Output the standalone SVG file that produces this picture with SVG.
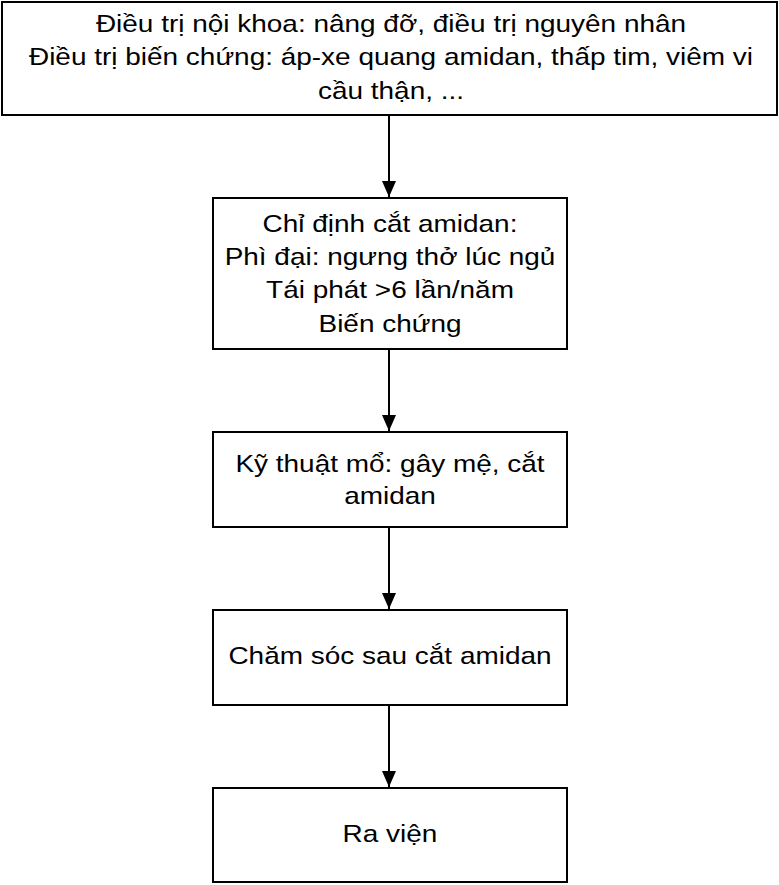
<svg xmlns="http://www.w3.org/2000/svg" width="779" height="885" viewBox="0 0 779 885">
<defs>
<marker id="arr" markerWidth="16" markerHeight="14" refX="16" refY="7" orient="auto" markerUnits="userSpaceOnUse" viewBox="0 0 16 14">
<path d="M0,0 L16,7 L0,14 Z" fill="#000"/>
</marker>
</defs>
<style>
.box{fill:#fff;stroke:#000;stroke-width:2}
.t{font-family:"Liberation Sans",Arial,sans-serif;font-size:24px;fill:#000;text-anchor:middle}
.c{stroke:#000;stroke-width:2;fill:none}
</style>
<rect width="779" height="885" fill="#fff"/>
<g id="connectors">
<line class="c" x1="389" y1="115" x2="389" y2="197" marker-end="url(#arr)"/>
<line class="c" x1="389" y1="349" x2="389" y2="431" marker-end="url(#arr)"/>
<line class="c" x1="389" y1="527" x2="389" y2="609" marker-end="url(#arr)"/>
<line class="c" x1="389" y1="705" x2="389" y2="787" marker-end="url(#arr)"/>
</g>
<g id="n1">
<rect class="box" x="2" y="2" width="775" height="113"/>
<g transform="translate(391,0) scale(1.165,1)">
<text class="t" x="0" y="32">Điều trị nội khoa: nâng đỡ, điều trị nguyên nhân</text>
<text class="t" x="0" y="65.5">Điều trị biến chứng: áp-xe quang amidan, thấp tim, viêm vi</text>
<text class="t" x="0" y="99">cầu thận, ...</text>
</g>
</g>
<g id="n2">
<rect class="box" x="213" y="198" width="354" height="151"/>
<g transform="translate(390,0) scale(1.165,1)">
<text class="t" x="0" y="232">Chỉ định cắt amidan:</text>
<text class="t" x="0" y="265">Phì đại: ngưng thở lúc ngủ</text>
<text class="t" x="0" y="298.5">Tái phát &gt;6 lần/năm</text>
<text class="t" x="0" y="332">Biến chứng</text>
</g>
</g>
<g id="n3">
<rect class="box" x="213" y="432" width="354" height="95"/>
<g transform="translate(390,0) scale(1.165,1)">
<text class="t" x="0" y="472">Kỹ thuật mổ: gây mệ, cắt</text>
<text class="t" x="0" y="504">amidan</text>
</g>
</g>
<g id="n4">
<rect class="box" x="213" y="610" width="354" height="95"/>
<g transform="translate(390,0) scale(1.165,1)">
<text class="t" x="0" y="664">Chăm sóc sau cắt amidan</text>
</g>
</g>
<g id="n5">
<rect class="box" x="213" y="788" width="354" height="94"/>
<g transform="translate(390,0) scale(1.165,1)">
<text class="t" x="0" y="842">Ra viện</text>
</g>
</g>
</svg>
